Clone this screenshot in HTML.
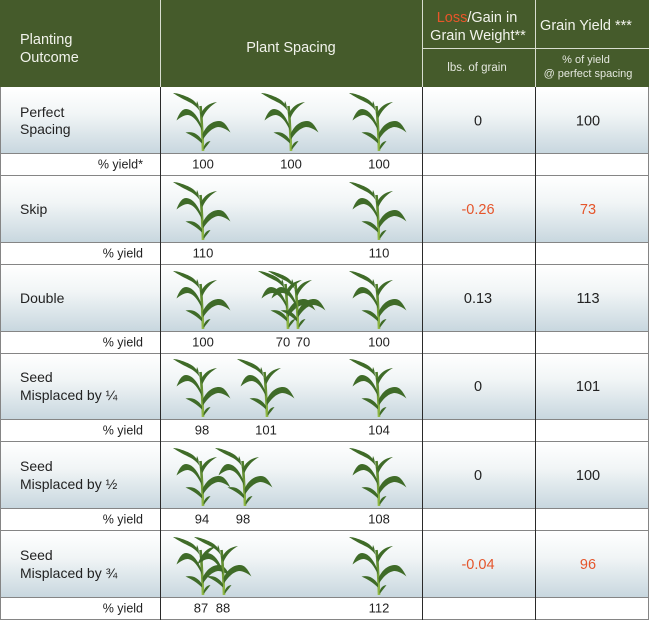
<!DOCTYPE html>
<html>
<head>
<meta charset="utf-8">
<style>
  html,body{margin:0;padding:0;background:#fff;}
  svg{display:block;}
  text{font-family:"Liberation Sans", sans-serif;}
</style>
</head>
<body>
<svg width="650" height="621" viewBox="0 0 650 621" xmlns="http://www.w3.org/2000/svg">
  <defs>
    <linearGradient id="g" x1="0" y1="0" x2="0" y2="1">
      <stop offset="0" stop-color="#ffffff"/>
      <stop offset="0.4" stop-color="#f1f5f6"/>
      <stop offset="1" stop-color="#c8d7df"/>
    </linearGradient>
    <linearGradient id="sg" gradientUnits="userSpaceOnUse" x1="0" y1="0" x2="0" y2="-45">
      <stop offset="0" stop-color="#93bb45"/>
      <stop offset="1" stop-color="#4c7a2a"/>
    </linearGradient>
    <g id="p">
      <path d="M0,0 C-0.5,-14 -1,-30 -2.5,-45" stroke="url(#sg)" stroke-width="2.6" fill="none"/>
      <g fill="#3f6b28">
        <path d="M-3,-38 C-4.5,-48 -10,-52 -18,-55 C-23,-57 -27,-58 -30,-58 C-25,-54.5 -18,-51 -12,-48 C-7,-45 -4,-42 -0.5,-35 Z"/>
        <path d="M-6,-50 C-5,-48 -4.5,-46 -4,-43 L-6.5,-47 Z"/>
        <path d="M-2.5,-37 C1,-44 6,-48 14,-49 C8,-45.5 3,-41 -0.5,-33 Z"/>
        <path d="M-1.5,-25 C-5,-35 -11,-42 -17,-42 C-21.5,-42 -24.5,-36 -26.5,-30.5 C-22,-34 -19,-36 -15,-36 C-9,-35 -5,-29 -0.8,-20 Z"/>
        <path d="M-0.5,-17 C3,-25 9,-30 16,-30 C21.5,-30 24.5,-24 27.5,-18.5 C23,-22 19,-24 15,-24 C9,-23 4,-18 0,-11.5 Z"/>
        <path d="M-1,-11 C-5,-17 -10,-20 -17.5,-18.5 C-11,-15.5 -6,-12.5 -1,-7.5 Z"/>
        <path d="M0.5,-3 C1.5,-7.5 4,-9.5 7.5,-10 C5.5,-7 3,-4.5 0.8,-1 Z"/>
      </g>
    </g>
  </defs>

  <rect x="0" y="0" width="650" height="621" fill="#ffffff"/>

  <!-- header -->
  <rect x="0" y="0" width="649" height="87" fill="#455b2b"/>
  <g stroke="#d8ddd0" stroke-width="1">
    <line x1="160.5" y1="0" x2="160.5" y2="87"/>
    <line x1="422.5" y1="0" x2="422.5" y2="87"/>
    <line x1="535.5" y1="0" x2="535.5" y2="87"/>
    <line x1="422" y1="48.5" x2="649" y2="48.5"/>
  </g>

  <g fill="#f2f3ec" font-size="14.5">
    <text x="20" y="44">Planting</text>
    <text x="20" y="62">Outcome</text>
    <text x="291" y="52" text-anchor="middle">Plant Spacing</text>
    <text x="477" y="22" text-anchor="middle"><tspan fill="#e8562a">Loss</tspan>/Gain in</text>
    <text x="478" y="40" text-anchor="middle">Grain Weight**</text>
    <text x="586" y="30" text-anchor="middle">Grain Yield ***</text>
  </g>
  <g fill="#e4e7de">
    <text x="477" y="71" text-anchor="middle" font-size="11.5">lbs. of grain</text>
    <text x="586" y="63" text-anchor="middle" font-size="11">% of yield</text>
    <text x="588" y="77" text-anchor="middle" font-size="11">@ perfect spacing</text>
  </g>

  <!-- plant rows backgrounds -->
  <g fill="url(#g)">
    <rect x="1" y="88" width="647" height="65"/>
    <rect x="1" y="176" width="647" height="66"/>
    <rect x="1" y="265" width="647" height="66"/>
    <rect x="1" y="354" width="647" height="65"/>
    <rect x="1" y="442" width="647" height="66"/>
    <rect x="1" y="531" width="647" height="66"/>
  </g>

  <!-- horizontal lines -->
  <g stroke="#858585" stroke-width="1">
    <line x1="0" y1="153.5" x2="649" y2="153.5"/>
    <line x1="0" y1="175.5" x2="649" y2="175.5"/>
    <line x1="0" y1="242.5" x2="649" y2="242.5"/>
    <line x1="0" y1="264.5" x2="649" y2="264.5"/>
    <line x1="0" y1="331.5" x2="649" y2="331.5"/>
    <line x1="0" y1="353.5" x2="649" y2="353.5"/>
    <line x1="0" y1="419.5" x2="649" y2="419.5"/>
    <line x1="0" y1="441.5" x2="649" y2="441.5"/>
    <line x1="0" y1="508.5" x2="649" y2="508.5"/>
    <line x1="0" y1="530.5" x2="649" y2="530.5"/>
    <line x1="0" y1="597.5" x2="649" y2="597.5"/>
    <line x1="0" y1="619.5" x2="649" y2="619.5"/>
    <line x1="0.5" y1="87" x2="0.5" y2="620"/>
    <line x1="648.5" y1="87" x2="648.5" y2="620"/>
  </g>
  <!-- vertical dark lines -->
  <g stroke="#2a2a2a" stroke-width="1">
    <line x1="160.5" y1="87" x2="160.5" y2="620"/>
    <line x1="422.5" y1="87" x2="422.5" y2="620"/>
    <line x1="535.5" y1="87" x2="535.5" y2="620"/>
  </g>

  <!-- plants -->
  <use href="#p" x="203" y="151"/>
  <use href="#p" x="291" y="151"/>
  <use href="#p" x="379" y="151"/>

  <use href="#p" x="203" y="240"/>
  <use href="#p" x="379" y="240"/>

  <use href="#p" x="203" y="329"/>
  <use href="#p" x="288" y="329"/>
  <use href="#p" x="298" y="329"/>
  <use href="#p" x="379" y="329"/>

  <use href="#p" x="203" y="417"/>
  <use href="#p" x="267" y="417"/>
  <use href="#p" x="379" y="417"/>

  <use href="#p" x="203" y="506"/>
  <use href="#p" x="245" y="506"/>
  <use href="#p" x="379" y="506"/>

  <use href="#p" x="203" y="595"/>
  <use href="#p" x="224" y="595"/>
  <use href="#p" x="379" y="595"/>

  <!-- row labels -->
  <g fill="#222" font-size="14">
    <text x="20" y="117">Perfect</text>
    <text x="20" y="134">Spacing</text>
    <text x="20" y="214">Skip</text>
    <text x="20" y="303">Double</text>
    <text x="20" y="382">Seed</text>
    <text x="20" y="400">Misplaced by ¼</text>
    <text x="20" y="471">Seed</text>
    <text x="20" y="489">Misplaced by ½</text>
    <text x="20" y="560">Seed</text>
    <text x="20" y="578">Misplaced by ¾</text>
  </g>

  <!-- % yield labels -->
  <g fill="#222" font-size="12.5" text-anchor="end">
    <text x="143" y="168.5">% yield*</text>
    <text x="143" y="257.5">% yield</text>
    <text x="143" y="346.5">% yield</text>
    <text x="143" y="434.5">% yield</text>
    <text x="143" y="523.5">% yield</text>
    <text x="143" y="612.5">% yield</text>
  </g>

  <!-- plant yield numbers -->
  <g fill="#222" font-size="13" text-anchor="middle">
    <text x="203" y="168.5">100</text>
    <text x="291" y="168.5">100</text>
    <text x="379" y="168.5">100</text>

    <text x="203" y="257.5">110</text>
    <text x="379" y="257.5">110</text>

    <text x="203" y="346.5">100</text>
    <text x="283" y="346.5">70</text>
    <text x="303" y="346.5">70</text>
    <text x="379" y="346.5">100</text>

    <text x="202" y="434.5">98</text>
    <text x="266" y="434.5">101</text>
    <text x="379" y="434.5">104</text>

    <text x="202" y="523.5">94</text>
    <text x="243" y="523.5">98</text>
    <text x="379" y="523.5">108</text>

    <text x="201" y="612.5">87</text>
    <text x="223" y="612.5">88</text>
    <text x="379" y="612.5">112</text>
  </g>

  <!-- data columns -->
  <g font-size="14.5" text-anchor="middle" fill="#222">
    <text x="478" y="125.5">0</text>
    <text x="588" y="125.5">100</text>
    <text x="478" y="214" fill="#e5552b">-0.26</text>
    <text x="588" y="214" fill="#e5552b">73</text>
    <text x="478" y="303">0.13</text>
    <text x="588" y="303">113</text>
    <text x="478" y="391">0</text>
    <text x="588" y="391">101</text>
    <text x="478" y="480">0</text>
    <text x="588" y="480">100</text>
    <text x="478" y="569" fill="#e5552b">-0.04</text>
    <text x="588" y="569" fill="#e5552b">96</text>
  </g>
</svg>
</body>
</html>
